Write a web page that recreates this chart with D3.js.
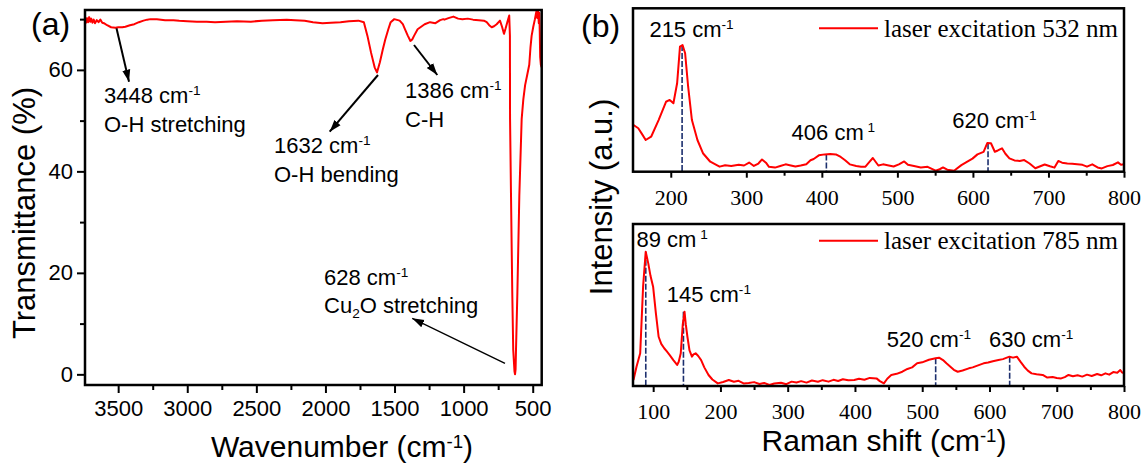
<!DOCTYPE html>
<html>
<head>
<meta charset="utf-8">
<script src="https://cdn.jsdelivr.net/npm/d3@7"></script>
<style>
body { margin: 0; background: #fff; }
</style>
</head>
<body>
<script>
// ---- data ----
// (a) FTIR: [wavenumber, transmittance %]
const ftir = [
[3740,69.6],[3733,69.3],[3725,70.2],[3718,69.4],[3710,70.4],[3702,69.5],[3695,70.1],[3686,69.3],[3677,69.9],[3668,69.2],
[3655,69.8],[3642,69.4],[3629,69.9],[3615,69.3],[3603,69.2],[3580,68.8],[3551,68.4],[3520,68.3],[3499,68.4],[3470,68.4],
[3448,68.5],[3415,68.8],[3383,69.0],[3350,69.4],[3317,69.7],[3290,69.9],[3266,70.0],[3220,70.0],[3160,69.8],[3100,69.8],
[3058,69.7],[3000,69.6],[2930,69.5],[2860,69.5],[2799,69.4],[2720,69.5],[2640,69.6],[2540,69.5],[2460,69.7],[2380,69.8],
[2280,69.9],[2220,69.8],[2150,69.7],[2090,69.4],[2021,69.2],[1960,69.3],[1891,69.4],[1830,69.6],[1762,69.7],[1722,69.4],
[1696,66.7],[1670,63.4],[1644,60.5],[1627,59.5],[1606,61.5],[1585,64.0],[1567,66.0],[1545,68.0],[1528,69.4],[1502,70.0],
[1463,69.7],[1440,69.0],[1424,68.0],[1405,66.8],[1385,65.7],[1372,66.0],[1359,66.7],[1333,68.0],[1282,69.0],[1243,69.4],
[1204,69.2],[1170,69.8],[1147,70.0],[1139,69.9],[1110,70.2],[1074,70.5],[1040,70.1],[1009,70.0],[970,70.1],[932,69.9],
[890,69.8],[853,69.7],[833,69.4],[815,68.8],[797,68.4],[780,68.6],[761,69.0],[737,69.7],[722,68.5],[708,67.1],
[696,68.2],[684,69.4],[670,70.7],[665,66.7],[664,50.3],[657,35.1],[648,16.1],[641,4.8],[632,0.6],[628,0],
[624,1.0],[621,4.8],[611,16.1],[597,35.1],[580,50.3],[568,54.2],[555,57.0],[540,59.0],[525,61.0],[516,64.5],
[508,66.7],[496,68.5],[484,70.0],[477,71.0],[471,71.8],[466,70.2],[461,71.6],[456,69.2],[452,71.2],[449,67.5],
[446,62.5],[441,61.0],[436,60.5]
];
const ftirTicksX = [3500, 3000, 2500, 2000, 1500, 1000, 500];
const ftirMinorX = [3250, 2750, 2250, 1750, 1250, 750];
const ftirTicksY = [0, 20, 40, 60];
const ftirMinorY = [10, 30, 50, 70];

// (b) Raman, 532 nm: [shift, intensity a.u.]
const raman532 = [
[150.7,28.6],[157,26.6],[162,23],[166.8,19.4],[174,21.4],[183.9,31.6],[193.7,42.8],[198.6,43.9],[203.5,41.9],[208.4,54.1],
[212.2,76.5],[215.6,77.5],[219,72.5],[223,52],[228,31.6],[235.3,19.4],[242.6,11.3],[252.3,6.1],[264.6,3.1],[272,4],
[280,3.5],[290,4.2],[297,3.8],[303.7,5.6],[310,3.5],[316,5],[320.8,7.5],[326,5.5],[330,3],[338,2.5],
[345,3.5],[352,4.5],[357.5,4],[365,3.2],[372,3.8],[379.4,4.6],[385,7],[389.2,7.8],[396,10],[403.9,10.6],
[411,10.9],[418.6,10.6],[425,9],[430.8,7],[437,4.5],[445.5,3.5],[452,3],[457.7,3.1],[463,6],[467.5,8.4],
[474.8,3.8],[481,4.5],[487,4],[495,3.2],[502,4.5],[509,6.3],[514,4.2],[522,3.5],[531,2.6],[540,3],
[550.6,0.6],[556,1.5],[560.4,2.6],[566,1.2],[575,0.6],[584.7,4],[592,6],[599.4,8],[606,10.6],[614.1,12.1],
[619,17.5],[623.9,17.4],[629,12.2],[633,13],[638.5,14.3],[643,11],[648.3,8.2],[655,6.9],[662,6.6],[667.9,7.1],
[675,5],[682.6,2.1],[690,3.5],[695,4.4],[702,3.3],[708,2.5],[713,6.6],[718,5.5],[725,5],[731.4,4.8],
[738,4.5],[745,4.2],[751,3.1],[758,4.5],[765,2.6],[770.6,2],[778,3.4],[785.2,4.1],[792,5.7],[796,4.2],[800,4.5]
];
// (b) Raman, 785 nm
const raman785 = [
[70.7,3.7],[75.2,11.9],[80.7,20.2],[85,61.3],[88.9,82.9],[92.7,75.7],[96,68],[99.9,61.3],[104,45],[108.1,30.4],
[112,26],[116.4,23.3],[120,21.5],[124.6,19.1],[130,16],[135.6,13],[138,15],[141,20.2],[144,38],[146.6,45.9],
[148.5,38],[150.9,30.4],[154,22],[157.6,18.1],[160,19.5],[163.1,20.2],[167,18.5],[171.3,16],[176,11.5],[182.3,6.8],
[188,4],[196,1.6],[204,2.5],[212.4,3.7],[220,2.6],[227,3.2],[234.4,1.6],[242,1.8],[250,2.4],[258,1.2],
[265,1.9],[272.8,0.6],[280,1.5],[290,2],[298,1.1],[305.8,2.7],[313,2.2],[320,3],[328,2.1],[336,3.4],
[345,2.6],[352,3.6],[360.7,2.7],[368,3.8],[375,3.1],[382,4.2],[390,3.5],[399,3.7],[406,4.5],[414,3.9],
[422,5],[432,4.7],[437,3],[443,1.6],[448,4.5],[454,6.8],[462,7.5],[470.4,8.8],[478,10.5],[485,11.5],
[492.4,14],[500,14.6],[510,16.2],[519.9,17.1],[525,17.5],[530.9,16],[536,14],[541.9,11.9],[547,10],[552.8,8.8],
[560,9.6],[569.3,10.9],[575,11.5],[582,12.6],[591.3,14],[598,14.5],[605,15.3],[613.3,16],[620,16.6],[629.7,18.1],
[635,17.5],[640.7,18.1],[646,15],[651.6,11.9],[657,9.5],[662.6,7.8],[670,7.2],[679.1,6.8],[686,5.2],[694,5.5],
[700,4.9],[706.5,4.7],[712,5.5],[717.5,6.8],[724,6],[731,6.6],[738,5.8],[745,7],[752,6.2],[760,7.4],
[766,6.6],[772.4,7.8],[778,7],[784,8.6],[790,8.2],[794.4,9.9],[797,8.4],[800,7.8]
];
const ticks532 = [200, 300, 400, 500, 600, 700, 800];
const minor532 = [250, 350, 450, 550, 650, 750];
const ticks785 = [100, 200, 300, 400, 500, 600, 700, 800];
const minor785 = [150, 250, 350, 450, 550, 650, 750];
// marked peaks [shift, intensity at top of dashed line]
const peaks532 = [[215, 77.5], [406, 10.6], [620, 17.4]];
const peaks785 = [[89, 82.9], [145, 45.9], [520, 17.1], [630, 18.1]];

const SANS = "'Liberation Sans', Arial, sans-serif";
const SERIF = "'Liberation Serif', 'Times New Roman', serif";
const RED = "#ff0000";
const NAVY = "#1c2f6e";

const svg = d3.select("body").append("svg")
	.attr("width", 1146)
	.attr("height", 468)
	.style("background", "#fff");

const defs = svg.append("defs");
defs.append("marker")
	.attr("id", "ah")
	.attr("viewBox", "0 0 12 10")
	.attr("refX", 12).attr("refY", 5)
	.attr("markerWidth", 12).attr("markerHeight", 10)
	.attr("markerUnits", "userSpaceOnUse")
	.attr("orient", "auto")
	.append("path").attr("d", "M0,1 L12,5 L0,9 Z").attr("fill", "#000");

function clip(id, x, y, w, h) {
	defs.append("clipPath").attr("id", id)
		.append("rect").attr("x", x).attr("y", y).attr("width", w).attr("height", h);
}

// text with sup/sub parts: parts = [[str, kind], ...]
function richText(g, x, y, parts, size, family, anchor, supRaise) {
	const t = g.append("text")
		.attr("x", x).attr("y", y)
		.attr("font-size", size)
		.attr("font-family", family)
		.attr("text-anchor", anchor || "start")
		.attr("fill", "#000");
	const raise = supRaise || 0.36;
	let shift = 0;
	parts.forEach(function(p) {
		let target = 0;
		if (p[1] == "sup") target = -raise * size;
		if (p[1] == "sub") target = 0.22 * size;
		t.append("tspan")
			.attr("dy", target - shift)
			.attr("font-size", p[1] ? size * 0.62 : size)
			.text(p[0]);
		shift = target;
	});
	return t;
}

function styleAxis(g, size, family) {
	g.select(".domain").remove();
	g.attr("font-size", size).attr("font-family", family);
	g.selectAll(".tick line").attr("stroke", "#000").attr("stroke-width", 2);
	g.selectAll(".tick text").attr("fill", "#000");
}

// ================= panel (a) =================
const A = { left: 85, right: 541.7, top: 10, bottom: 385 };
const xA = d3.scaleLinear().domain([3740, 435]).range([A.left, A.right]);
const yA = d3.scaleLinear().domain([-2.1, 71.8]).range([A.bottom, A.top]);
clip("clipA", A.left, A.top, A.right - A.left, A.bottom - A.top);

const gA = svg.append("g");

gA.append("path")
	.datum(ftir)
	.attr("clip-path", "url(#clipA)")
	.attr("fill", "none")
	.attr("stroke", RED)
	.attr("stroke-width", 2)
	.attr("stroke-linejoin", "round")
	.attr("d", d3.line().x(d => xA(d[0])).y(d => yA(d[1])));

const axA = gA.append("g").attr("transform", `translate(0,${A.bottom})`)
	.call(d3.axisBottom(xA).tickValues(ftirTicksX).tickSizeInner(8).tickSizeOuter(0).tickPadding(7).tickFormat(d3.format("d")));
styleAxis(axA, 22, SANS);
const axAm = gA.append("g").attr("transform", `translate(0,${A.bottom})`)
	.call(d3.axisBottom(xA).tickValues(ftirMinorX).tickSizeInner(5).tickSizeOuter(0).tickFormat(""));
styleAxis(axAm, 22, SANS);

const ayA = gA.append("g").attr("transform", `translate(${A.left},0)`)
	.call(d3.axisLeft(yA).tickValues(ftirTicksY).tickSizeInner(8).tickSizeOuter(0).tickPadding(4));
styleAxis(ayA, 22, SANS);
const ayAm = gA.append("g").attr("transform", `translate(${A.left},0)`)
	.call(d3.axisLeft(yA).tickValues(ftirMinorY).tickSizeInner(5).tickSizeOuter(0).tickFormat(""));
styleAxis(ayAm, 22, SANS);

gA.append("rect")
	.attr("x", A.left).attr("y", A.top)
	.attr("width", A.right - A.left).attr("height", A.bottom - A.top)
	.attr("fill", "none").attr("stroke", "#000").attr("stroke-width", 2.5);

richText(gA, 342, 456.7, [["Wavenumber (cm"], ["-1", "sup"], [")"]], 30, SANS, "middle", 0.3);
gA.append("text")
	.attr("transform", "translate(35,213) rotate(-90)")
	.attr("text-anchor", "middle")
	.attr("font-size", 31).attr("font-family", SANS)
	.text("Transmittance (%)");
gA.append("text").attr("x", 31).attr("y", 35)
	.attr("font-size", 32).attr("font-family", SANS).text("(a)");

// band annotations
richText(gA, 104, 103, [["3448 cm"], ["-1", "sup"]], 22, SANS);
richText(gA, 104, 131.7, [["O-H stretching"]], 22, SANS);
richText(gA, 274, 153, [["1632 cm"], ["-1", "sup"]], 22, SANS);
richText(gA, 274, 181.7, [["O-H bending"]], 22, SANS);
richText(gA, 405, 98.3, [["1386 cm"], ["-1", "sup"]], 22, SANS);
richText(gA, 405, 126.7, [["C-H"]], 22, SANS);
richText(gA, 324, 285, [["628 cm"], ["-1", "sup"]], 22, SANS);
richText(gA, 324, 313.3, [["Cu"], ["2", "sub"], ["O stretching"]], 22, SANS);

const arrowsA = [
	[116.5, 28.3, 129, 81.7, 2],
	[378, 75, 329.7, 131.7, 2],
	[414, 45, 437.3, 75, 2],
	[505, 363.3, 412.2, 318.3, 1.3]
];
arrowsA.forEach(function(a) {
	gA.append("line")
		.attr("x1", a[0]).attr("y1", a[1]).attr("x2", a[2]).attr("y2", a[3])
		.attr("stroke", "#000").attr("stroke-width", a[4])
		.attr("marker-end", "url(#ah)");
});

// ================= panel (b) =================
const B = { left: 633, right: 1124 };
const B1 = { top: 8.3, bottom: 171.7 };
const B2 = { top: 224, bottom: 386 };
const xB1 = d3.scaleLinear().domain([150, 800]).range([B.left, B.right]);
const yB1 = d3.scaleLinear().domain([0, 100]).range([B1.bottom, B1.top]);
const xB2 = d3.scaleLinear().domain([70, 800]).range([B.left, B.right]);
const yB2 = d3.scaleLinear().domain([0, 100]).range([B2.bottom, B2.top]);
clip("clipB1", B.left, B1.top, B.right - B.left, B1.bottom - B1.top);
clip("clipB2", B.left, B2.top, B.right - B.left, B2.bottom - B2.top);

const gB = svg.append("g");

function ramanPanel(data, peaks, ticks, minor, xs, ys, box, clipId, legend, legendY, labels) {
	// dashed peak markers
	gB.selectAll(null).data(peaks).join("line")
		.attr("x1", d => xs(d[0])).attr("x2", d => xs(d[0]))
		.attr("y1", d => ys(d[1])).attr("y2", box.bottom)
		.attr("stroke", NAVY).attr("stroke-width", 1.6)
		.attr("stroke-dasharray", "6,2");

	gB.append("path")
		.datum(data)
		.attr("clip-path", `url(#${clipId})`)
		.attr("fill", "none")
		.attr("stroke", RED)
		.attr("stroke-width", 2)
		.attr("stroke-linejoin", "round")
		.attr("d", d3.line().x(d => xs(d[0])).y(d => ys(d[1])));

	const ax = gB.append("g").attr("transform", `translate(0,${box.bottom})`)
		.call(d3.axisBottom(xs).tickValues(ticks).tickSizeInner(6).tickSizeOuter(0).tickPadding(11.5).tickFormat(d3.format("d")));
	styleAxis(ax, 22, SERIF);
	const axm = gB.append("g").attr("transform", `translate(0,${box.bottom})`)
		.call(d3.axisBottom(xs).tickValues(minor).tickSizeInner(4).tickSizeOuter(0).tickFormat(""));
	styleAxis(axm, 22, SERIF);

	gB.append("rect")
		.attr("x", B.left).attr("y", box.top)
		.attr("width", B.right - B.left).attr("height", box.bottom - box.top)
		.attr("fill", "none").attr("stroke", "#000").attr("stroke-width", 2.5);

	gB.append("line")
		.attr("x1", 819).attr("x2", 878).attr("y1", legendY).attr("y2", legendY)
		.attr("stroke", RED).attr("stroke-width", 2);
	gB.append("text")
		.attr("x", 884).attr("y", legendY + 8.4)
		.attr("font-size", 25).attr("font-family", SERIF)
		.text(legend);

	labels.forEach(function(l) {
		richText(gB, l[0], l[1], l[2], 22, SANS);
	});
}

ramanPanel(raman532, peaks532, ticks532, minor532, xB1, yB1, B1, "clipB1",
	"laser excitation 532 nm", 28.3, [
		[649.4, 36.7, [["215 cm"], ["-1", "sup"]]],
		[791.6, 140, [["406 cm"], [" 1", "sup"]]],
		[952.2, 128.3, [["620 cm"], ["-1", "sup"]]]
	]);
ramanPanel(raman785, peaks785, ticks785, minor785, xB2, yB2, B2, "clipB2",
	"laser excitation 785 nm", 240.7, [
		[636.5, 246.7, [["89 cm"], [" 1", "sup"]]],
		[666.7, 301.7, [["145 cm"], ["-1", "sup"]]],
		[886.8, 346.7, [["520 cm"], ["-1", "sup"]]],
		[989, 346.7, [["630 cm"], ["-1", "sup"]]]
	]);

richText(gB, 884, 451, [["Raman shift (cm"], ["-1", "sup"], [")"]], 30, SANS, "middle", 0.3);
gB.append("text")
	.attr("transform", "translate(612,197) rotate(-90)")
	.attr("text-anchor", "middle")
	.attr("font-size", 31).attr("font-family", SANS)
	.text("Intensity (a.u.)");
gB.append("text").attr("x", 581).attr("y", 36.7)
	.attr("font-size", 32).attr("font-family", SANS).text("(b)");
</script>
</body>
</html>
